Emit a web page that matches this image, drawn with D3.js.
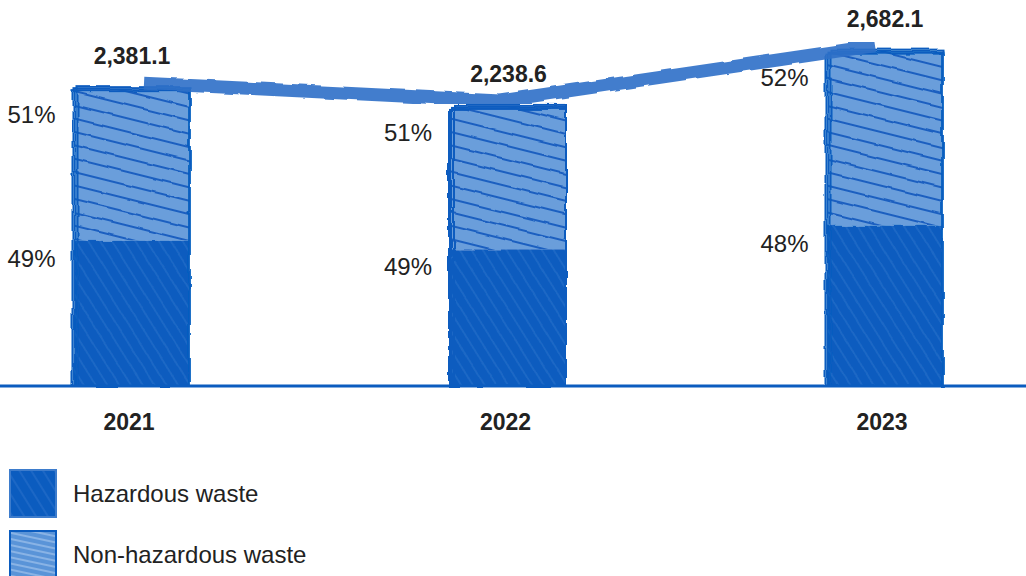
<!DOCTYPE html>
<html><head><meta charset="utf-8">
<script src="https://cdn.jsdelivr.net/npm/d3@7"></script>
<style>body{margin:0;background:#fff}svg{display:block}</style>
</head><body><svg id="c" width="1026" height="576"></svg>
<script>
const years = ["2021","2022","2023"];
const totals = [2381.1, 2238.6, 2682.1];
const hazardousPct = [49, 49, 48];
const nonHazardousPct = [51, 51, 52];
const hazardous = [1166.7, 1096.9, 1287.4];
const nonHazardous = [1214.4, 1141.7, 1394.7];
const legendLabels = ["Hazardous waste", "Non-hazardous waste"];

const W = 1026, H = 576;
const svg = d3.select("#c");
const defs = svg.append("defs");
const dark = "#0b5cbf", light = "#6a9edb", txt = "#222";
const font = "Liberation Sans, Arial, sans-serif";

const pH = defs.append("pattern").attr("id","hz").attr("patternUnits","userSpaceOnUse")
  .attr("width",10).attr("height",10).attr("patternTransform","rotate(58)");
pH.append("rect").attr("width",10).attr("height",10).attr("fill",dark);
pH.append("line").attr("x1",0).attr("x2",10).attr("y1",3).attr("y2",3).attr("stroke","#3f7fd0").attr("stroke-width",1.3).attr("opacity",0.5);
const pN = defs.append("pattern").attr("id","nh").attr("patternUnits","userSpaceOnUse")
  .attr("width",40).attr("height",13).attr("patternTransform","rotate(14)");
pN.append("rect").attr("width",40).attr("height",13).attr("fill",light);
pN.append("line").attr("x1",0).attr("x2",40).attr("y1",6).attr("y2",6).attr("stroke","#1a5fc0").attr("stroke-width",1.8);
const pL = defs.append("pattern").attr("id","nhL").attr("patternUnits","userSpaceOnUse")
  .attr("width",20).attr("height",6).attr("patternTransform","rotate(12)");
pL.append("rect").attr("width",20).attr("height",6).attr("fill","#5a94d8");
pL.append("line").attr("x1",0).attr("x2",20).attr("y1",3).attr("y2",3).attr("stroke","#a9c8ee").attr("stroke-width",1.2);

const f = defs.append("filter").attr("id","rough").attr("x","-5%").attr("y","-5%").attr("width","110%").attr("height","110%");
f.append("feTurbulence").attr("type","fractalNoise").attr("baseFrequency",0.05).attr("numOctaves",2).attr("seed",3).attr("result","n");
f.append("feDisplacementMap").attr("in","SourceGraphic").attr("in2","n").attr("scale",4);

const x = d3.scalePoint().domain(years).range([132, 885]);
const y = d3.scaleLinear().domain([0, 3000]).range([386, 12]);
const bw = 115;

const data = years.map((yr,i)=>({yr, tot: totals[i], hz: hazardous[i], nh: nonHazardous[i], hp: hazardousPct[i], np: nonHazardousPct[i]}));

const g = svg.append("g");
data.forEach(d=>{
  const cx = x(d.yr), x0 = cx - bw/2;
  const ySplit = y(d.hz), yTop = y(d.hz + d.nh);
  g.append("rect").attr("x",x0).attr("y",yTop).attr("width",bw).attr("height",ySplit - yTop)
    .attr("fill","url(#nh)").attr("filter","url(#rough)");
  g.append("rect").attr("x",x0).attr("y",ySplit).attr("width",bw).attr("height",y(0)-ySplit)
    .attr("fill","url(#hz)").attr("filter","url(#rough)");
  [[0,0],[3,-2],[-2,2]].forEach(([dx,dy])=>{
    g.append("rect").attr("x",x0+dx).attr("y",yTop+dy).attr("width",bw-dx).attr("height",y(0)-yTop-dy)
      .attr("fill","none").attr("stroke",dark).attr("stroke-width",2).attr("filter","url(#rough)");
  });
  g.append("line").attr("x1",x0).attr("x2",x0+bw).attr("y1",ySplit).attr("y2",ySplit)
    .attr("stroke",dark).attr("stroke-width",2).attr("filter","url(#rough)");
  g.append("text").attr("x",x0-19).attr("y",yTop+34).attr("text-anchor","end")
    .attr("font-family",font).attr("font-size",24).attr("fill",txt).text(d.np+"%");
  g.append("text").attr("x",x0-19).attr("y",ySplit+26).attr("text-anchor","end")
    .attr("font-family",font).attr("font-size",24).attr("fill",txt).text(d.hp+"%");
  g.append("text").attr("x",cx).attr("y",yTop-25).attr("text-anchor","middle")
    .attr("font-family",font).attr("font-size",23).attr("font-weight","bold").attr("fill",txt)
    .text(d3.format(",.1f")(d.tot));
  g.append("text").attr("x",cx-3).attr("y",430).attr("text-anchor","middle")
    .attr("font-family",font).attr("font-size",23).attr("font-weight","bold").attr("fill",txt).text(d.yr);
});

const lineData = data.map(d=>({yr:d.yr, tot:d.tot}));
svg.append("path").datum(lineData).attr("d", d3.line()
    .x((d,i)=> x(d.yr) + (i===0?12:(i===lineData.length-1?-10:-8)))
    .y(d=>y(d.tot)-6))
  .attr("fill","none").attr("stroke","#2f70c8").attr("stroke-width",13).attr("opacity",0.9)
  .attr("filter","url(#rough)");

svg.append("line").attr("x1",0).attr("x2",W).attr("y1",y(0)).attr("y2",y(0))
  .attr("stroke",dark).attr("stroke-width",3);

const lg = svg.append("g");
legendLabels.forEach((lab,i)=>{
  const ly = 470 + i*61;
  lg.append("rect").attr("x",10).attr("y",ly).attr("width",46).attr("height",47)
    .attr("fill", i===0 ? "url(#hz)" : "url(#nhL)").attr("stroke", i===0?"#3d7ccc":dark).attr("stroke-width",2);
  lg.append("text").attr("x",73).attr("y",ly+32).attr("font-family",font).attr("font-size",24)
    .attr("fill",txt).text(lab);
});
</script></body></html>
